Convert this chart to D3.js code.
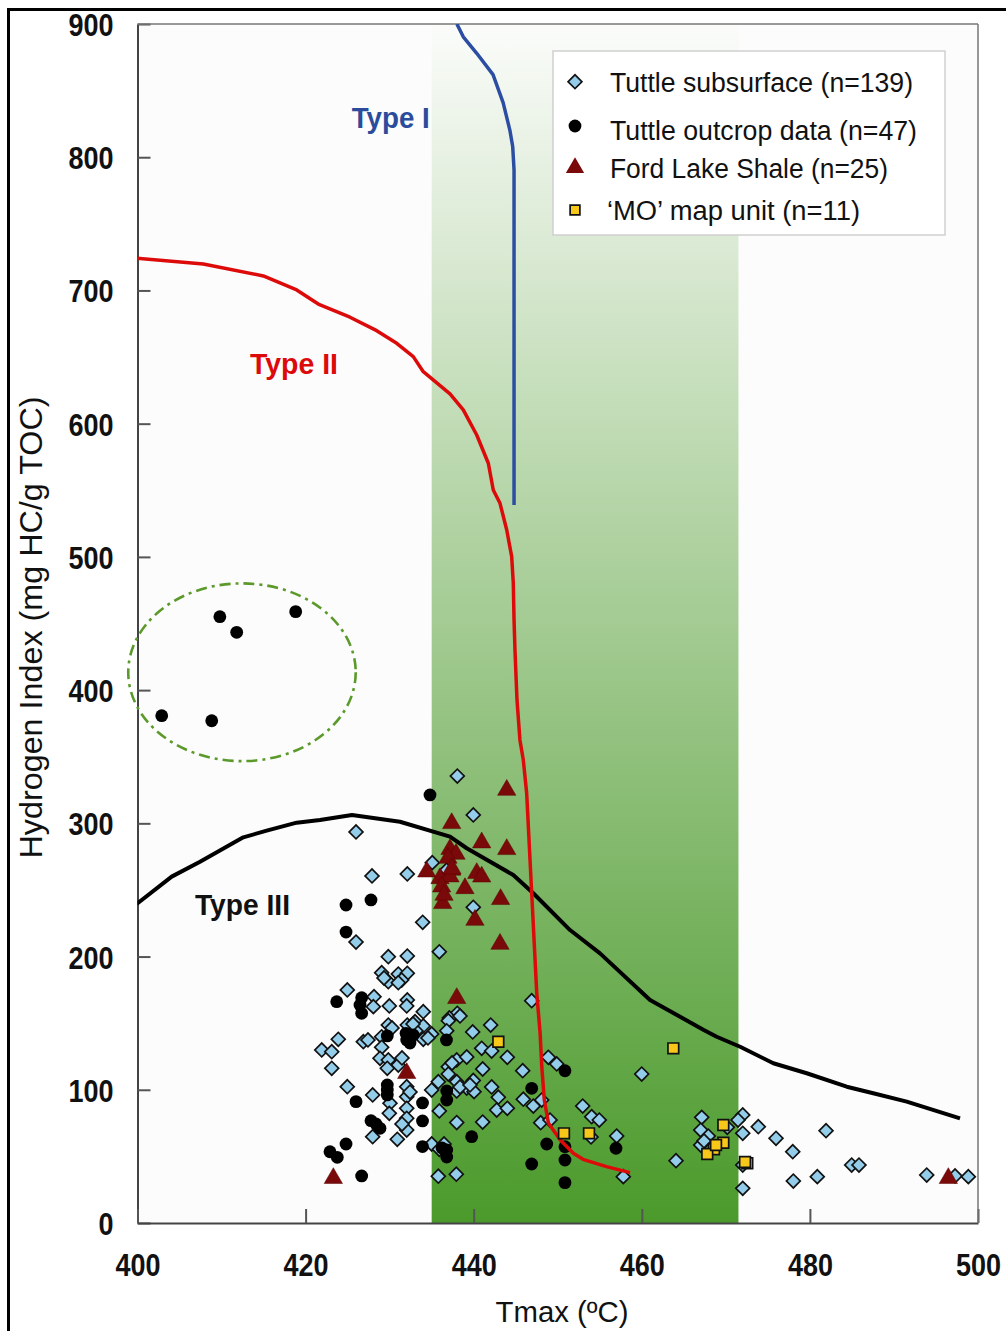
<!DOCTYPE html>
<html>
<head>
<meta charset="utf-8">
<script src="https://cdn.jsdelivr.net/npm/d3@7"></script>
<style>
  html, body { margin: 0; padding: 0; background: #fff; }
  svg { display: block; }
  text { font-family: "Liberation Sans", Arial, Helvetica, sans-serif; }
</style>
</head>
<body>
<svg id="chart" width="1006" height="1331"></svg>
<script>
// ---- axis ticks ----
const tmaxTicks = [400, 420, 440, 460, 480, 500];
const hiTicks = [0, 100, 200, 300, 400, 500, 600, 700, 800, 900];

// ---- kerogen evolution curves [Tmax, HI] ----
const typeICurve = [
  [438.0, 900], [438.76, 890.4], [440.36, 878.0], [442.3, 862], [443.5, 841],
  [444.3, 820.4], [444.64, 808], [444.8, 790.4], [444.8, 539]
];
const typeIICurve = [
  [399.9, 724.1], [407.83, 719.9], [414.97, 710.9], [418.94, 700.4], [421.51, 689.8],
  [425.28, 679.9], [428.46, 669.8], [430.84, 660.3], [432.81, 650.3], [434.0, 639.0],
  [437.18, 622.3], [438.76, 610.3], [440.36, 591.5], [441.74, 570.3], [442.33, 550.2],
  [443.13, 540.2], [443.93, 520.2], [444.52, 500.2], [444.71, 480.2], [444.8, 452.6],
  [444.91, 430.1], [445.15, 392.6], [445.5, 362.6], [445.9, 347.6], [446.3, 322.8],
  [446.9, 247.7], [447.5, 172.6], [447.9, 142.6], [448.1, 117.3], [448.4, 92.3],
  [448.9, 74.8], [450.3, 62.3], [451.85, 52.3], [453.0, 47.8], [455.8, 42.3], [458.6, 37.8]
];
const typeIIICurve = [
  [399.9, 239.5], [404.07, 260.0], [407.44, 271.2], [412.59, 289.5], [415.37, 294.5],
  [418.94, 300.5], [421.71, 302.5], [425.52, 306.3], [431.23, 301.2], [437.18, 290.0],
  [439.17, 281.3], [444.71, 261.2], [447.09, 247.5], [451.46, 219.9], [455.03, 202.4],
  [460.98, 167.4], [467.37, 144.9], [468.91, 139.8], [471.7, 132.3], [475.65, 119.9],
  [479.62, 112.4], [484.38, 102.3], [487.54, 97.4], [491.52, 91.1], [497.86, 78.6]
];

// oil window band (Tmax range)
const oilWindow = [435, 471.5];

// outlier group outline: centre and radii in data units
const outlierEllipse = { t: 412.43, hi: 413.4, rt: 13.53, rhi: 66.7 };

// ---- samples [Tmax, HI] ----
const tuttleSubsurface = [
  [438.05,335.5],[439.95,306.3],[426.0,293.5],[435.07,270.5],[436.79,265.0],[432.10,262.0],
  [427.90,260.5],[439.95,237.0],[433.93,225.7],[426.0,210.9],[435.91,203.6],[429.84,199.9],
  [432.10,200.4],[429.05,187.9],[431.03,186.9],[432.10,187.4],[431.43,182.4],[429.84,181.1],
  [431.03,180.4],[424.96,174.9],[428.14,169.9],[432.10,167.4],[428.06,162.4],[429.96,162.9],
  [432.03,162.9],[434.0,158.6],[438.05,157.4],[446.90,166.9],[437.10,153.9],[436.98,151.9],
  [442.02,148.6],[429.84,148.6],[432.10,148.6],[433.02,151.1],[434.0,147.9],[429.05,139.8],
  [435.0,141.9],[436.79,144.3],[439.88,143.4],[423.89,137.9],[426.87,136.1],[429.05,131.9],
  [434.0,137.9],[440.95,131.1],[442.14,129.1],[421.92,129.9],[423.11,128.6],[428.85,123.6],
  [429.84,122.4],[431.03,118.6],[437.98,122.4],[439.17,124.6],[429.72,116.1],[436.98,117.3],
  [441.07,115.6],[423.11,116.1],[436.98,111.8],[439.95,107.0],[437.98,106.1],[424.96,102.3],
  [427.98,96.1],[432.03,102.3],[432.03,94.8],[435.0,99.8],[439.17,101.3],[442.14,102.1],
  [440.04,98.6],[430.04,89.9],[432.03,86.1],[437.98,99.1],[435.91,84.1],[441.07,75.8],
  [437.98,75.4],[429.96,82.3],[432.03,78.6],[432.03,69.8],[427.98,64.8],[430.91,62.8],
  [435.0,59.3],[435.91,55.3],[435.79,35.1],[437.93,36.6],[435.79,106.1],[442.93,94.4],
  [445.83,114.3],[448.88,124.4],[449.88,119.4],[445.90,92.9],[447.09,87.8],[448.09,92.3],
  [442.74,84.8],[444.0,86.1],[447.97,75.3],[449.08,77.3],[452.97,87.8],[454.04,79.8],
  [454.94,77.3],[457.01,65.3],[459.99,111.8],[444.0,124.4],[467.13,79.3],[472.01,81.1],
  [467.01,69.8],[467.91,65.3],[472.01,67.3],[473.86,72.3],[475.97,63.6],[467.01,58.5],
  [477.96,53.5],[481.92,69.3],[464.07,46.8],[472.01,43.5],[484.97,43.5],[485.84,43.5],
  [478.03,31.5],[480.88,34.8],[493.90,36.0],[497.27,35.3],[498.85,34.8],[472.01,26.0],
  [470.17,71.8],[457.80,34.8],[453.96,64.6],[433.14,144.1],[431.47,123.9],[432.78,149.4],
  [437.42,120.1],[438.37,155.4],[434.56,138.9],[431.47,74.3],[429.33,183.9],[432.42,98.3],
  [438.37,102.1],[436.47,59.3],[427.42,137.4],[430.28,146.4],[467.40,61.6],[471.45,77.3],
  [439.56,103.6]
];
const tuttleOutcrop = [
  [409.8,455.1],[411.8,443.4],[418.82,458.9],[402.88,380.8],[408.83,377.0],
  [434.8,321.3],[424.81,238.7],[427.78,242.5],[424.81,218.4],[423.7,166.1],[426.67,169.1],
  [426.67,157.4],[429.72,140.4],[431.95,142.4],[432.03,137.4],[432.81,141.1],[436.76,137.4],
  [429.72,103.6],[429.72,96.1],[426.0,91.1],[436.79,99.1],[436.79,92.3],[433.91,90.1],
  [427.78,76.8],[428.85,71.1],[433.91,76.6],[439.76,64.8],[424.81,59.3],[422.9,53.5],
  [423.77,49.3],[433.91,57.4],[436.79,54.8],[436.79,49.5],[426.67,35.3],[450.86,114.3],
  [446.9,101.1],[448.69,59.3],[450.86,57.3],[456.93,56.1],[446.9,44.3],[450.86,47.3],
  [450.86,30.3],[428.38,74.3],[429.72,99.8],[432.42,135.1],[436.23,56.3],[426.47,163.6]
];
const fordLakeShale = [
  [443.93,325.0],[437.38,300.0],[440.95,285.5],[443.93,280.5],[437.18,280.5],[437.9,277.0],
  [434.41,263.7],[437.38,265.0],[440.36,262.5],[440.95,259.9],[435.99,258.7],[437.18,260.0],
  [436.19,252.4],[438.96,251.2],[443.2,243.0],[436.31,240.0],[440.15,227.4],[443.13,209.4],
  [437.98,168.7],[432.03,112.4],[423.3,33.6],[496.47,33.6],[436.94,274.0],[436.47,246.2],
  [437.42,266.0]
];
const moMapUnit = [
  [442.93,136.1],[450.74,67.3],[453.72,67.3],[463.75,131.1],[469.7,73.6],[469.7,60.3],
  [468.59,55.3],[467.79,51.8],[472.55,44.8],[468.83,58.5],[472.28,45.8]
];

const legendLabels = [
  "Tuttle subsurface (n=139)",
  "Tuttle outcrop data (n=47)",
  "Ford Lake Shale (n=25)",
  "\u2018MO\u2019 map unit (n=11)"
];

// ---- drawing ----
const svg = d3.select("#chart");
const plotL = 137.5, plotR = 978, plotT = 24, plotB = 1223;
const x = d3.scaleLinear().domain([400, 500]).range([plotL, plotR]);
const y = d3.scaleLinear().domain([0, 900]).range([plotB, plotT]);

const defs = svg.append("defs");
const grad = defs.append("linearGradient").attr("id", "oilGrad")
  .attr("x1", 0).attr("y1", 0).attr("x2", 0).attr("y2", 1);
grad.append("stop").attr("offset", "0%").attr("stop-color", "#fbfcfa");
grad.append("stop").attr("offset", "100%").attr("stop-color", "#4b9a2b");
defs.append("clipPath").attr("id", "plotClip").append("rect")
  .attr("x", plotL).attr("y", plotT).attr("width", plotR - plotL).attr("height", plotB - plotT);

// outer frame
svg.append("rect").attr("x", 8.5).attr("y", 9.5).attr("width", 1020).attr("height", 1340)
  .attr("fill", "none").attr("stroke", "#000").attr("stroke-width", 3);

// plot background
svg.append("rect").attr("x", plotL).attr("y", plotT).attr("width", plotR - plotL).attr("height", plotB - plotT)
  .attr("fill", "#fcfcfc");

// oil window band
svg.append("rect")
  .attr("x", x(oilWindow[0])).attr("y", y(900))
  .attr("width", x(oilWindow[1]) - x(oilWindow[0])).attr("height", y(0) - y(900))
  .attr("fill", "url(#oilGrad)");

// axes
const yAxis = d3.axisLeft(y).tickValues(hiTicks).tickSizeInner(-13).tickSizeOuter(0).tickPadding(24);
const xAxis = d3.axisBottom(x).tickValues(tmaxTicks).tickSizeInner(-14).tickSizeOuter(0).tickPadding(31);

const gy = svg.append("g").attr("transform", `translate(${plotL},0)`).call(yAxis);
const gx = svg.append("g").attr("transform", `translate(0,${plotB})`).call(xAxis);
[gy, gx].forEach(g => {
  g.select(".domain").attr("stroke", "#444").attr("stroke-width", 2);
  g.selectAll(".tick line").attr("stroke", "#555").attr("stroke-width", 2);
  g.selectAll(".tick text")
    .attr("fill", "#111")
    .style("font-size", "31px").style("font-weight", "bold")
    .style("font-family", "'Liberation Sans', Arial, sans-serif")
    .attr("textLength", d => String(d).length * 15)
    .attr("lengthAdjust", "spacingAndGlyphs");
});
gy.selectAll(".tick text").attr("dy", "0.37em");

// top and right frame
svg.append("line").attr("x1", plotL).attr("x2", plotR).attr("y1", plotT).attr("y2", plotT)
  .attr("stroke", "#777").attr("stroke-width", 1.5);
svg.append("line").attr("x1", plotR).attr("x2", plotR).attr("y1", plotT).attr("y2", plotB)
  .attr("stroke", "#777").attr("stroke-width", 1.5);

// axis titles
svg.append("text")
  .attr("transform", `translate(42,${(393 + 862) / 2}) rotate(-90)`)
  .attr("text-anchor", "middle")
  .attr("textLength", 462).attr("lengthAdjust", "spacingAndGlyphs")
  .style("font-size", "31px").attr("fill", "#111")
  .text("Hydrogen Index (mg HC/g TOC)");
svg.append("text")
  .attr("x", 562).attr("y", 1322)
  .attr("text-anchor", "middle")
  .attr("textLength", 133).attr("lengthAdjust", "spacingAndGlyphs")
  .style("font-size", "29px").attr("fill", "#111")
  .text("Tmax (ºC)");

// curves
const plot = svg.append("g").attr("clip-path", "url(#plotClip)");
const line = d3.line().x(d => x(d[0])).y(d => y(d[1]));
plot.append("path").datum(typeIIICurve).attr("d", line)
  .attr("fill", "none").attr("stroke", "#000").attr("stroke-width", 4).attr("stroke-linejoin", "round");
plot.append("path").datum(typeICurve).attr("d", line)
  .attr("fill", "none").attr("stroke", "#2b4ea2").attr("stroke-width", 3.5).attr("stroke-linejoin", "round");

// outlier ellipse (crosses the left axis, so it is not clipped)
svg.append("ellipse")
  .attr("cx", x(outlierEllipse.t)).attr("cy", y(outlierEllipse.hi))
  .attr("rx", x(outlierEllipse.t + outlierEllipse.rt) - x(outlierEllipse.t))
  .attr("ry", y(outlierEllipse.hi) - y(outlierEllipse.hi + outlierEllipse.rhi))
  .attr("fill", "none").attr("stroke", "#5b9a2a").attr("stroke-width", 2.6)
  .attr("stroke-dasharray", "11,5,3,5");

// markers
const diamond = d3.symbol().type(d3.symbolSquare).size(96);
plot.append("g").selectAll("path").data(tuttleSubsurface).join("path")
  .attr("d", diamond)
  .attr("transform", d => `translate(${x(d[0])},${y(d[1])}) rotate(45)`)
  .attr("fill", "#93cdea").attr("stroke", "#111").attr("stroke-width", 1.7);

plot.append("g").selectAll("circle").data(tuttleOutcrop).join("circle")
  .attr("cx", d => x(d[0])).attr("cy", d => y(d[1])).attr("r", 6.4)
  .attr("fill", "#000");

const tri = d3.symbol().type(d3.symbolTriangle).size(145);
plot.append("g").selectAll("path").data(fordLakeShale).join("path")
  .attr("d", tri)
  .attr("transform", d => `translate(${x(d[0])},${y(d[1])})`)
  .attr("fill", "#7a0a0a").attr("stroke", "#5a0000").attr("stroke-width", 0.5);

// Type II drawn over the samples
plot.append("path").datum(typeIICurve).attr("d", line)
  .attr("fill", "none").attr("stroke", "#dd0a0a").attr("stroke-width", 3.5).attr("stroke-linejoin", "round");

const sq = d3.symbol().type(d3.symbolSquare).size(115);
plot.append("g").selectAll("path").data(moMapUnit).join("path")
  .attr("d", sq)
  .attr("transform", d => `translate(${x(d[0])},${y(d[1])})`)
  .attr("fill", "#f7c81a").attr("stroke", "#111").attr("stroke-width", 1.7);

// curve labels
const curveLabels = [
  { text: "Type I", x: 351.7, y: 128, w: 78, color: "#2b4c9b" },
  { text: "Type II", x: 250, y: 374, w: 88, color: "#dd0a0a" },
  { text: "Type III", x: 195, y: 915, w: 95, color: "#111" }
];
svg.append("g").selectAll("text").data(curveLabels).join("text")
  .attr("x", d => d.x).attr("y", d => d.y)
  .attr("textLength", d => d.w).attr("lengthAdjust", "spacingAndGlyphs")
  .attr("fill", d => d.color)
  .style("font-size", "29px").style("font-weight", "bold")
  .text(d => d.text);

// legend
const lg = svg.append("g");
lg.append("rect").attr("x", 553).attr("y", 51).attr("width", 392).attr("height", 184)
  .attr("fill", "#fff").attr("stroke", "#d0d0d0").attr("stroke-width", 1.5);
const rowsY = [81.7, 126, 167.7, 210];
const baseY = [91.7, 140, 178, 220];
const textW = [303, 307, 278, 250];
lg.append("path").attr("d", diamond).attr("transform", `translate(575,${rowsY[0]}) rotate(45)`)
  .attr("fill", "#93cdea").attr("stroke", "#111").attr("stroke-width", 1.7);
lg.append("circle").attr("cx", 575).attr("cy", rowsY[1]).attr("r", 6.4).attr("fill", "#000");
lg.append("path").attr("d", tri).attr("transform", `translate(575,${rowsY[2]})`).attr("fill", "#7a0a0a");
lg.append("path").attr("d", d3.symbol().type(d3.symbolSquare).size(95))
  .attr("transform", `translate(575,${rowsY[3]})`)
  .attr("fill", "#f7c81a").attr("stroke", "#111").attr("stroke-width", 1.7);
lg.selectAll("text.lbl").data(legendLabels).join("text").attr("class", "lbl")
  .attr("x", (d, i) => i === 3 ? 607 : 610).attr("y", (d, i) => baseY[i])
  .attr("textLength", (d, i) => textW[i] + (i === 3 ? 3 : 0)).attr("lengthAdjust", "spacingAndGlyphs")
  .style("font-size", "27px").attr("fill", "#111")
  .text(d => d);
</script>
</body>
</html>
